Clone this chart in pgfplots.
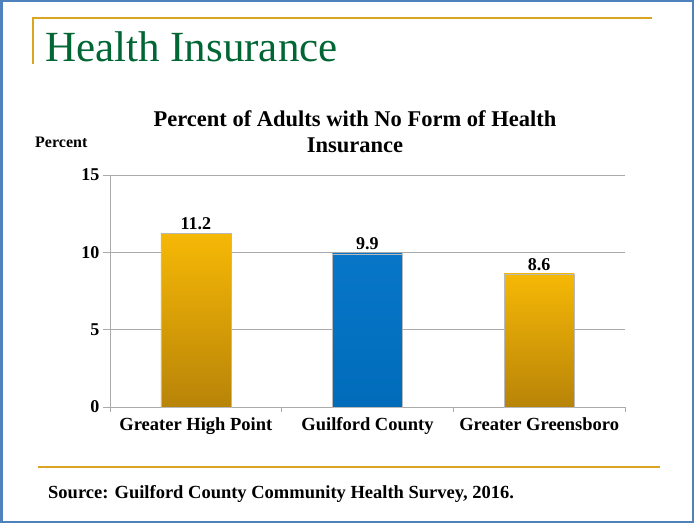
\documentclass[border=0pt]{standalone}
\usepackage{pgfplots}
\pgfplotsset{compat=1.18}
\usepackage{fontspec}
\setmainfont{Liberation Serif}
\definecolor{titlegreen}{RGB}{0,102,51}
\definecolor{goldline}{RGB}{218,165,32}
\definecolor{frameblue}{RGB}{79,129,189}
\definecolor{gridgray}{RGB}{170,170,170}
\definecolor{goldtop}{RGB}{246,184,6}
\definecolor{goldbot}{RGB}{184,132,8}
\definecolor{bluetop}{RGB}{8,118,200}
\definecolor{bluebot}{RGB}{0,108,186}
\begin{document}
\begin{tikzpicture}
\path[use as bounding box] (0pt,0pt) rectangle (694pt,523pt);
\fill[white] (0pt,0pt) rectangle (694pt,523pt);
\draw[frameblue, line width=2.5pt] (1.25pt,1.25pt) rectangle (692.75pt,521.75pt);
\draw[goldline, line width=1.5pt] (33pt,459pt) -- (33pt,505pt) -- (652pt,505pt);
\draw[goldline, line width=1.5pt] (38pt,56pt) -- (660pt,56pt);
\node[anchor=base west, inner sep=0, text=titlegreen, font=\fontsize{43}{48}\selectfont] at (45pt,461pt) {Health Insurance};
\node[anchor=base, inner sep=0, font=\bfseries\fontsize{22.5}{26}\selectfont] at (355pt,396pt) {Percent of Adults with No Form of Health};
\node[anchor=base, inner sep=0, font=\bfseries\fontsize{22.5}{26}\selectfont] at (355pt,370pt) {Insurance};
\node[anchor=base west, inner sep=0, font=\bfseries\fontsize{16}{19}\selectfont] at (35pt,375pt) {Percent};
\node[anchor=base west, inner sep=0, font=\bfseries\fontsize{18.5}{22}\selectfont] at (48pt,25pt) {Source: Guilford County Community Health Survey, 2016.};
\begin{axis}[
  at={(195.83pt,116pt)}, anchor=origin,
  scale only axis, width=515pt, height=232pt,
  xmin=-0.5, xmax=2.5, ymin=0, ymax=15,
  ytick={0,5,10,15},
  xtick={0,1,2},
  xticklabels={Greater High Point, Guilford County, Greater Greensboro},
  minor xtick={-0.5,0.5,1.5,2.5},
  major x tick style={draw=none},
  minor x tick style={draw=gridgray, line width=0.8pt},
  minor tick length=5pt,
  axis x line*=bottom, axis y line*=left,
  axis line style={draw=gridgray, line width=0.8pt, -},
  xtick align=outside, ytick align=outside,
  xtick pos=bottom, ytick pos=left,
  major tick length=7pt,
  major y tick style={draw=gridgray, line width=0.8pt},
  ymajorgrids, grid style={draw=gridgray, line width=0.8pt},
  /pgf/number format/assume math mode=true,
  ticklabel style={font=\bfseries\fontsize{18}{21}\selectfont},
  xticklabel style={font=\bfseries\fontsize{18.5}{21}\selectfont},
  nodes near coords,
  nodes near coords style={font=\bfseries\fontsize{18}{21}\selectfont, /pgf/number format/.cd, fixed, fixed zerofill, precision=1},
]
\addplot[ybar, bar width=70pt, bar shift=0pt, draw=gray!55, line width=0.6pt, top color=goldtop, bottom color=goldbot] coordinates {(0,11.2)};
\addplot[ybar, bar width=70pt, bar shift=0pt, draw=gray!55, line width=0.6pt, top color=bluetop, bottom color=bluebot] coordinates {(1,9.9)};
\addplot[ybar, bar width=70pt, bar shift=0pt, draw=gray!55, line width=0.6pt, top color=goldtop, bottom color=goldbot] coordinates {(2,8.6)};
\end{axis}
\end{tikzpicture}
\end{document}
